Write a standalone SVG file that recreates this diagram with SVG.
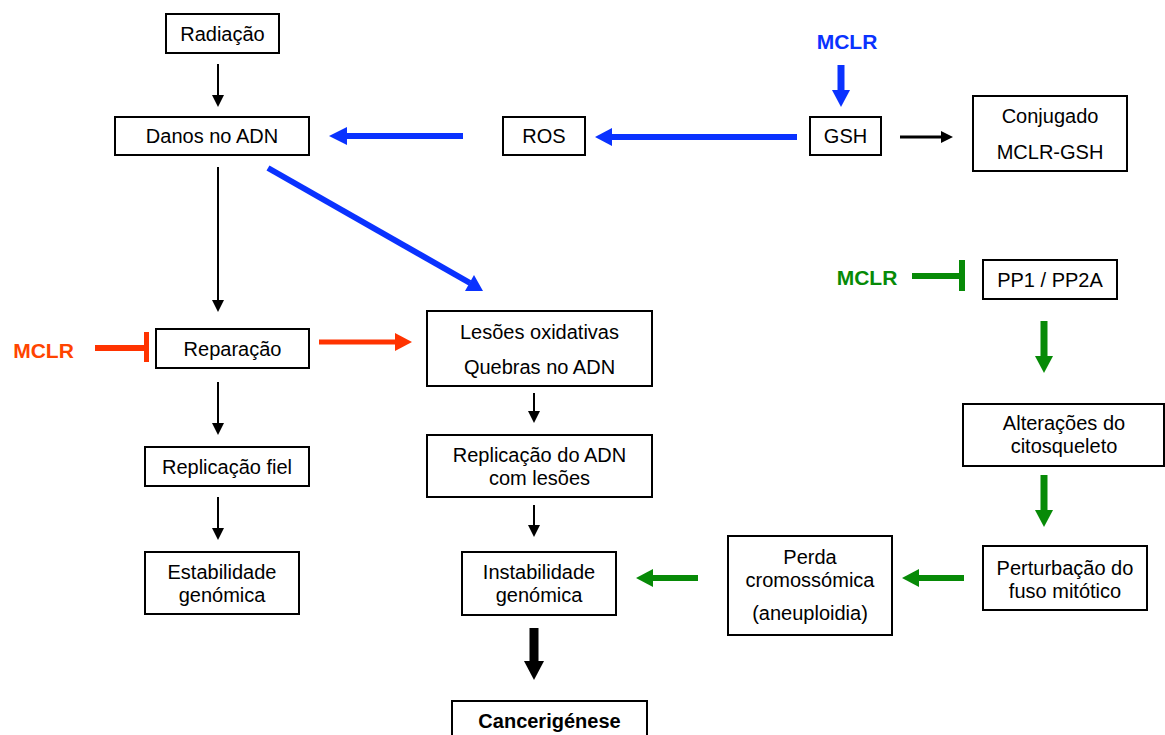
<svg xmlns="http://www.w3.org/2000/svg" width="1165" height="735" viewBox="0 0 1165 735">
<style>
.box{fill:#fff;stroke:#000;stroke-width:2}
.t{font-family:"Liberation Sans",Arial,sans-serif;font-size:20px;fill:#000;text-anchor:middle}
.b{font-weight:bold}
.m{font-family:"Liberation Sans",Arial,sans-serif;font-size:21px;font-weight:bold;text-anchor:middle}
.k{stroke:#000;stroke-width:2;fill:none}
.kh{fill:#000}
.bl{stroke:#0A32FF;stroke-width:6;fill:none}
.blh{fill:#0A32FF}
.rd{stroke:#FF3300;stroke-width:6;fill:none}
.rdh{fill:#FF3300}
.gr{stroke:#078A07;stroke-width:6;fill:none}
.grh{fill:#078A07}
</style>
<rect width="1165" height="735" fill="#fff"/>
<g id="connectors">
<line class="k" x1="218" y1="64" x2="218" y2="96"/><polygon class="kh" points="212,95 224,95 218,107"/>
<line class="k" x1="218" y1="167" x2="218" y2="301"/><polygon class="kh" points="212,300 224,300 218,312"/>
<line class="k" x1="218" y1="382" x2="218" y2="424"/><polygon class="kh" points="212,423 224,423 218,435"/>
<line class="k" x1="218" y1="497" x2="218" y2="529"/><polygon class="kh" points="212,528 224,528 218,540"/>
<line class="k" x1="534" y1="393" x2="534" y2="412"/><polygon class="kh" points="528,411 540,411 534,423"/>
<line class="k" x1="534" y1="505" x2="534" y2="526"/><polygon class="kh" points="528,525 540,525 534,537"/>
<line class="k" style="stroke-width:3" x1="900" y1="137" x2="943" y2="137"/><polygon class="kh" points="941,131 941,143 953,137"/>
<line class="k" style="stroke-width:9" x1="534" y1="628" x2="534" y2="663"/><polygon class="kh" points="524,661 544,661 534,680"/>
<line class="bl" x1="463" y1="136" x2="345" y2="136"/><polygon class="blh" points="347,127 347,145 329,136"/>
<line class="bl" x1="797" y1="137" x2="610" y2="137"/><polygon class="blh" points="612,128 612,146 595,137"/>
<line class="bl" style="stroke-width:7" x1="841" y1="65" x2="841" y2="92"/><polygon class="blh" points="832,90 850,90 841,107"/>
<line class="bl" x1="268" y1="168" x2="470" y2="283"/><polygon class="blh" points="483,291 465,291 474,275"/>
<line class="rd" style="stroke-width:5" x1="319" y1="342" x2="397" y2="342"/><polygon class="rdh" points="395,333 395,351 412,342"/>
<line class="rd" x1="95" y1="348" x2="146" y2="348"/><line class="rd" style="stroke-width:5" x1="146.5" y1="332" x2="146.5" y2="362"/>
<line class="gr" x1="912" y1="276" x2="962" y2="276"/><line class="gr" x1="962" y1="260" x2="962" y2="291"/>
<line class="gr" style="stroke-width:7" x1="1044" y1="321" x2="1044" y2="358"/><polygon class="grh" points="1035,356 1053,356 1044,373"/>
<line class="gr" style="stroke-width:7" x1="1044" y1="475" x2="1044" y2="512"/><polygon class="grh" points="1035,510 1053,510 1044,527"/>
<line class="gr" x1="964" y1="578" x2="917" y2="578"/><polygon class="grh" points="919,569 919,587 902,578"/>
<line class="gr" x1="698" y1="578" x2="651" y2="578"/><polygon class="grh" points="653,569 653,587 636,578"/>
</g>
<g id="radiacao"><rect class="box" x="166" y="14" width="113" height="39"/><text class="t" x="222.5" y="41">Radiação</text></g>
<g id="danos"><rect class="box" x="115" y="117" width="194" height="38"/><text class="t" x="212" y="143">Danos no ADN</text></g>
<g id="ros"><rect class="box" x="503" y="117" width="82" height="38"/><text class="t" x="544" y="143">ROS</text></g>
<g id="gsh"><rect class="box" x="810" y="117" width="71" height="38"/><text class="t" x="845.5" y="143">GSH</text></g>
<g id="mclr-blue"><text class="m" x="847" y="49" fill="#0A32FF">MCLR</text></g>
<g id="conjugado"><rect class="box" x="973" y="96" width="154" height="75"/><text class="t" x="1050" y="123">Conjugado</text><text class="t" x="1050" y="159">MCLR-GSH</text></g>
<g id="mclr-green"><text class="m" x="867" y="285" fill="#078A07">MCLR</text></g>
<g id="pp1"><rect class="box" x="983" y="260" width="134" height="39"/><text class="t" x="1050" y="287">PP1 / PP2A</text></g>
<g id="alteracoes"><rect class="box" x="963" y="404" width="201" height="62"/><text class="t" x="1064" y="430">Alterações do</text><text class="t" x="1064" y="453">citosqueleto</text></g>
<g id="perturbacao"><rect class="box" x="983" y="546" width="164" height="64"/><text class="t" x="1065" y="575">Perturbação do</text><text class="t" x="1065" y="598">fuso mitótico</text></g>
<g id="perda"><rect class="box" x="728" y="536" width="164" height="99"/><text class="t" x="810" y="564">Perda</text><text class="t" x="810" y="587">cromossómica</text><text class="t" x="810" y="620">(aneuploidia)</text></g>
<g id="instabilidade"><rect class="box" x="462" y="552" width="154" height="63"/><text class="t" x="539" y="579">Instabilidade</text><text class="t" x="539" y="602">genómica</text></g>
<g id="cancerigenese"><rect class="box" x="452" y="701" width="195" height="40"/><text class="t b" x="549.5" y="728">Cancerigénese</text></g>
<g id="lesoes"><rect class="box" x="427" y="311" width="225" height="75"/><text class="t" x="539.5" y="339">Lesões oxidativas</text><text class="t" x="539.5" y="374">Quebras no ADN</text></g>
<g id="replicacao-adn"><rect class="box" x="427" y="435" width="225" height="62"/><text class="t" x="539.5" y="462">Replicação do ADN</text><text class="t" x="539.5" y="485">com lesões</text></g>
<g id="reparacao"><rect class="box" x="156" y="329" width="153" height="39"/><text class="t" x="232.5" y="356">Reparação</text></g>
<g id="mclr-red"><text class="m" x="43.5" y="358" fill="#FF4400">MCLR</text></g>
<g id="replicacao-fiel"><rect class="box" x="145" y="447" width="164" height="39"/><text class="t" x="227" y="474">Replicação fiel</text></g>
<g id="estabilidade"><rect class="box" x="145" y="552" width="154" height="62"/><text class="t" x="222" y="579">Estabilidade</text><text class="t" x="222" y="602">genómica</text></g>
</svg>
